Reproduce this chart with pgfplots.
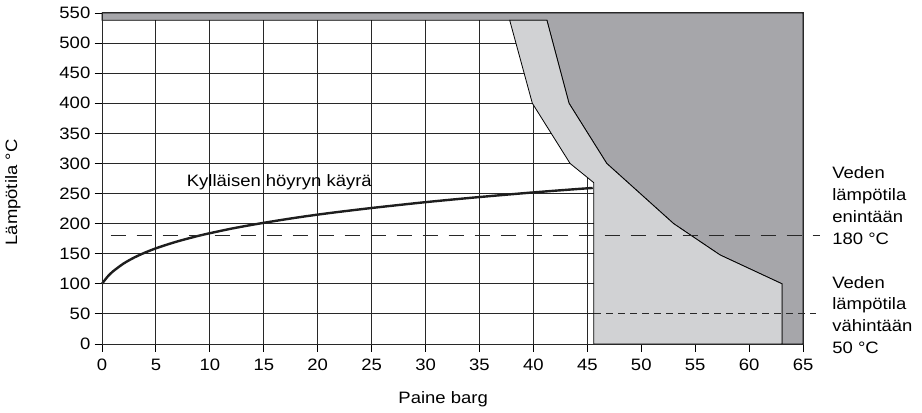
\documentclass[border=0pt]{standalone}
\usepackage{fontspec}
\setmainfont{Liberation Sans}[FakeStretch=1.12]
\usepackage{pgfplots}
\pgfplotsset{compat=1.18}
\definecolor{darkregion}{RGB}{166,166,170}
\definecolor{lightregion}{RGB}{209,210,212}
\definecolor{gridc}{RGB}{40,40,40}
\definecolor{curvec}{RGB}{30,30,30}
\begin{document}
\fontsize{16.5}{20}\selectfont
\begin{tikzpicture}
\begin{axis}[
  scale only axis, width=701pt, height=331pt,
  xmin=0, xmax=65, ymin=0, ymax=550,
  xtick={0,5,...,65}, ytick={0,50,...,550},
  tick pos=left,
  tick align=outside, major tick length=7.5pt,
  tick style={black, line width=0.9pt},
  grid=major, major grid style={gridc, line width=0.9pt},
  axis line style={gridc, line width=1pt},
  clip=false,
  /pgf/number format/assume math mode=true,
  tick label style={font=\fontsize{16.5}{20}\selectfont},
  yticklabel style={inner sep=0pt, xshift=-4pt},
  xticklabel style={inner sep=0pt, yshift=-7pt},
]
% invisible bounding box (922 x 412)
\path (axis cs:-9.458,-112.99) rectangle (axis cs:76.03,571.6);

% dark region (steam region incl. top strip)
\addplot[fill=darkregion, draw=black, line width=0.8pt] coordinates {
  (0,538) (41.25,538) (43.3,400) (46.8,300) (53,200) (57.3,148) (63.05,100)
  (63.05,0) (65,0) (65,550) (0,550)} -- cycle;

% light region
\addplot[fill=lightregion, draw=black, line width=0.8pt] coordinates {
  (37.8,538) (39.9,400) (43.4,300) (45.6,268) (45.6,0) (63.05,0) (63.05,100)
  (57.3,148) (53,200) (46.8,300) (43.3,400) (41.25,538)} -- cycle;

% saturated steam curve
\addplot[curvec, line width=2.4pt, smooth] coordinates {
  (0,100) (0.5,111.6) (1,120.4) (2,133.7) (3,143.8) (4,152) (5,159) (6,165)
  (7,170.5) (8,175.4) (9,180) (10,184.1) (12,191.7) (14,198.3) (16,204.3)
  (18,209.9) (20,215) (22,219.6) (25,226) (28,231.9) (30,235.7) (32,239.2)
  (35,244.2) (38,248.9) (40,251.9) (42,254.7) (44,257.4) (45.5,259.3)};

% dashed limit lines
\addplot[gridc, line width=0.9pt, dash pattern=on 15pt off 11pt, dash phase=17.3pt] coordinates {(0,180) (66.6,180)};
\addplot[gridc, line width=0.9pt, dash pattern=on 7pt off 5pt] coordinates {(0,50) (66.2,50)};

% axis box on top
\draw[gridc, line width=1pt] (rel axis cs:0,0) rectangle (rel axis cs:1,1);

% labels
\node[anchor=base west, inner sep=0pt] at (axis cs:7.85,262.5) {Kylläisen höyryn käyrä};
\node[anchor=base, inner sep=0pt, rotate=90] at (axis cs:-7.88,251.7) {Lämpötila °C};
\node[anchor=base, inner sep=0pt] at (axis cs:31.63,-98.5) {Paine barg};

\node[anchor=base west, inner sep=0pt] at (axis cs:67.7,274.2) {Veden};
\node[anchor=base west, inner sep=0pt] at (axis cs:67.7,237.9) {lämpötila};
\node[anchor=base west, inner sep=0pt] at (axis cs:67.7,201.9) {enintään};
\node[anchor=base west, inner sep=0pt] at (axis cs:67.7,165.7) {180 °C};

\node[anchor=base west, inner sep=0pt] at (axis cs:67.7,93.05) {Veden};
\node[anchor=base west, inner sep=0pt] at (axis cs:67.7,56.8) {lämpötila};
\node[anchor=base west, inner sep=0pt] at (axis cs:67.7,20.8) {vähintään};
\node[anchor=base west, inner sep=0pt] at (axis cs:67.7,-15.5) {50 °C};
\end{axis}
\end{tikzpicture}
\end{document}
